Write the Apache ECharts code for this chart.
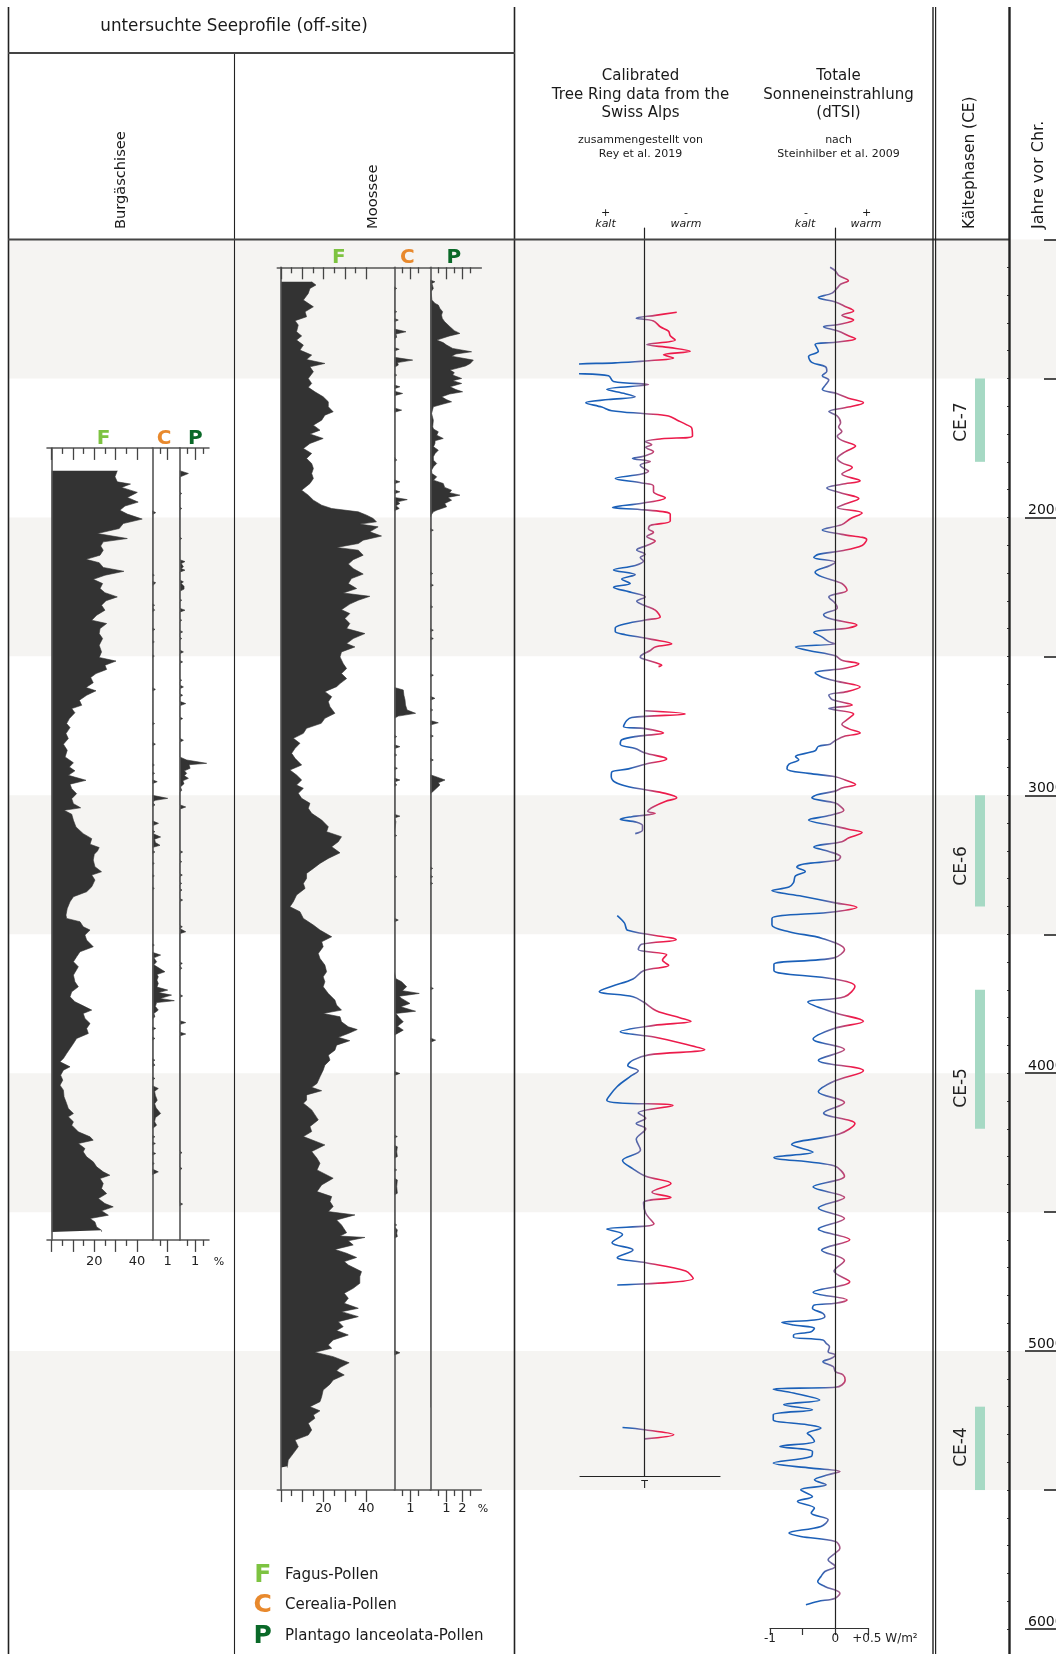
<!DOCTYPE html>
<html>
<head>
<meta charset="utf-8">
<script src="https://cdn.jsdelivr.net/npm/echarts@6/dist/echarts.min.js"></script>
<style>
  html, body { margin: 0; padding: 0; background: #fff; }
  #chart { width: 1056px; height: 1654px; }
</style>
</head>
<body>
<div id="chart"></div>
<script>
// ---------------- data (years BC) ----------------
// pollen percentages: [year, %]
const burgFagus = [[1832,30.8],[1854,29.7],[1872,30.8],[1880,37.0],[1892,32.8],[1910,40.2],[1928,35.5],[1945,40.6],[1959,34.4],[1974,32.0],[1988,35.5],[2006,42.5],[2022,33.6],[2040,31.7],[2058,21.4],[2076,35.5],[2088,24.2],[2103,23.0],[2118,24.2],[2136,22.7],[2151,16.1],[2163,22.3],[2180,24.2],[2194,33.9],[2208,25.0],[2223,19.5],[2238,23.9],[2256,22.7],[2271,25.0],[2286,30.8],[2300,25.5],[2316,23.4],[2334,25.0],[2352,21.1],[2370,18.8],[2382,25.8],[2400,22.7],[2418,22.3],[2436,23.9],[2460,22.3],[2484,23.4],[2504,22.3],[2517,30.2],[2532,25.0],[2547,25.8],[2562,20.8],[2576,18.3],[2595,19.5],[2612,16.1],[2624,20.8],[2640,16.4],[2658,13.0],[2676,14.1],[2688,9.4],[2703,10.9],[2724,8.3],[2742,7.0],[2756,8.6],[2778,6.7],[2796,7.8],[2816,5.5],[2838,7.3],[2862,6.3],[2883,10.2],[2898,8.3],[2912,10.9],[2928,7.8],[2946,16.1],[2960,8.6],[2976,9.4],[2994,11.7],[3012,9.4],[3030,10.2],[3045,13.6],[3054,5.8],[3068,9.4],[3090,10.2],[3114,11.4],[3138,14.8],[3156,18.8],[3176,18.0],[3188,22.3],[3200,21.5],[3212,20.0],[3233,19.5],[3257,20.3],[3275,23.4],[3287,18.8],[3305,20.3],[3329,18.8],[3347,16.4],[3365,10.2],[3383,8.6],[3407,7.3],[3431,6.7],[3443,7.0],[3455,13.3],[3473,14.8],[3485,18.0],[3503,15.6],[3521,16.4],[3545,19.5],[3563,13.3],[3581,11.7],[3599,10.2],[3617,12.5],[3647,10.2],[3671,10.9],[3689,12.5],[3707,9.4],[3725,8.6],[3743,10.9],[3755,14.1],[3773,18.8],[3785,14.8],[3803,15.6],[3821,18.0],[3839,16.4],[3857,17.2],[3875,11.7],[3893,10.2],[3911,8.6],[3929,7.0],[3947,5.5],[3959,3.9],[3977,8.6],[3989,5.5],[4007,4.2],[4025,5.2],[4043,3.9],[4061,5.5],[4085,5.8],[4109,7.0],[4127,7.8],[4145,10.2],[4157,7.8],[4175,10.2],[4187,9.4],[4211,12.5],[4229,18.0],[4241,19.5],[4253,12.5],[4271,15.6],[4283,14.8],[4301,16.4],[4319,19.5],[4337,21.1],[4355,24.2],[4367,27.3],[4379,22.7],[4397,24.2],[4415,23.4],[4433,25.8],[4451,21.9],[4469,25.0],[4481,28.9],[4495,23.4],[4511,26.6],[4523,18.0],[4535,20.3],[4553,21.1],[4565,23.4],[4571,23.4]];

const burgCerealia = [[1976,0],[1983,0.22],[1990,0],[2202,0],[2208,0.13],[2214,0],[2230,0],[2235,0.22],[2241,0.22],[2247,0],[2310,0],[2316,0.15],[2322,0],[2328,0],[2334,0.15],[2340,0],[2397,0],[2403,0.17],[2409,0],[2442,0],[2448,0.13],[2454,0],[2493,0],[2499,0.13],[2505,0],[2544,0],[2550,0.11],[2556,0],[2612,0],[2619,0.2],[2626,0],[2658,0],[2664,0.11],[2670,0],[2736,0],[2742,0.15],[2748,0],[2809,0],[2816,0.2],[2823,0],[2885,0],[2891,0.13],[2897,0],[2915,0],[2921,0.15],[2927,0],[2944,0],[2951,0.32],[2958,0],[3000,0],[3011,1.0],[3018,0.2],[3024,0],[3029,0],[3035,0.17],[3041,0],[3092,0],[3101,0.4],[3110,0],[3125,0],[3131,0.17],[3137,0],[3142,0],[3150,0.54],[3158,0.15],[3170,0.2],[3180,0.5],[3188,0],[3198,0],[3204,0.17],[3210,0],[3239,0],[3245,0.13],[3251,0],[3284,0],[3290,0.13],[3296,0],[3329,0],[3335,0.13],[3341,0],[3443,0],[3449,0.11],[3455,0],[3467,0],[3473,0.11],[3479,0],[3533,0],[3539,0.13],[3545,0],[3565,0],[3575,0.54],[3585,0.1],[3599,0.28],[3610,0.1],[3635,0.82],[3645,0.3],[3653,0.39],[3665,0.3],[3677,0.39],[3690,0.3],[3701,1.0],[3710,0.4],[3719,1.25],[3731,0.5],[3739,1.43],[3746,0.28],[3760,0.2],[3773,0.39],[3785,0.1],[3797,0.17],[3805,0],[3833,0],[3839,0.22],[3845,0],[3869,0],[3875,0.17],[3881,0],[3947,0],[3953,0.17],[3959,0],[3965,0],[3971,0.17],[3977,0],[4013,0],[4019,0.17],[4025,0],[4045,0],[4055,0.39],[4065,0.15],[4080,0.2],[4097,0.32],[4110,0.15],[4125,0.25],[4145,0.54],[4160,0.2],[4175,0.15],[4187,0.28],[4200,0],[4223,0],[4229,0.17],[4235,0],[4247,0],[4253,0.2],[4259,0],[4283,0],[4289,0.22],[4295,0],[4319,0],[4325,0.13],[4331,0],[4345,0],[4355,0.39],[4365,0]];

const burgPlantago = [[1832,0],[1842,0.56],[1855,0],[1908,0],[1914,0.13],[1920,0],[1962,0],[1968,0.13],[1974,0],[1998,0],[2004,0.11],[2010,0],[2070,0],[2076,0.13],[2082,0],[2152,0],[2159,0.34],[2166,0.1],[2178,0.24],[2184,0.1],[2190,0.34],[2197,0],[2225,0],[2232,0.24],[2238,0.1],[2248,0.28],[2258,0.28],[2266,0],[2292,0],[2298,0.13],[2304,0],[2327,0],[2334,0.34],[2341,0],[2364,0],[2370,0.13],[2376,0],[2406,0],[2412,0.19],[2418,0],[2430,0],[2436,0.13],[2442,0],[2477,0],[2484,0.24],[2491,0],[2514,0],[2520,0.19],[2526,0],[2580,0],[2586,0.13],[2592,0],[2603,0],[2610,0.24],[2617,0],[2634,0],[2640,0.19],[2646,0],[2662,0],[2670,0.39],[2678,0],[2718,0],[2724,0.19],[2730,0],[2795,0],[2802,0.24],[2809,0],[2862,0],[2873,0.45],[2885,1.74],[2890,0.6],[2903,0.67],[2912,0.3],[2921,0.45],[2930,0.3],[2939,0.56],[2948,0.2],[2958,0.28],[2970,0.05],[2982,0.13],[2990,0],[3034,0],[3042,0.39],[3050,0],[3198,0],[3204,0.19],[3210,0],[3233,0],[3239,0.13],[3245,0],[3281,0],[3287,0.17],[3293,0],[3311,0],[3317,0.13],[3323,0],[3335,0],[3341,0.15],[3347,0],[3371,0],[3377,0.19],[3383,0],[3467,0],[3473,0.17],[3479,0],[3484,0],[3491,0.39],[3498,0],[3599,0],[3605,0.17],[3611,0],[3617,0],[3623,0.13],[3629,0],[3716,0],[3722,0.19],[3728,0],[3811,0],[3818,0.39],[3825,0],[3852,0],[3859,0.39],[3866,0],[4280,0],[4286,0.15],[4292,0],[4337,0],[4343,0.15],[4349,0],[4465,0],[4471,0.19],[4477,0]];

const mooFagus = [[1152,14.4],[1164,16.4],[1176,13.6],[1194,12.8],[1218,10.5],[1242,15.2],[1260,11.3],[1278,12.0],[1292,6.6],[1308,8.1],[1332,7.3],[1347,9.7],[1362,7.3],[1380,10.5],[1398,8.9],[1416,14.4],[1432,12.0],[1446,20.6],[1458,13.6],[1476,15.2],[1500,12.8],[1518,14.4],[1532,12.8],[1548,15.9],[1566,19.8],[1584,22.2],[1602,22.2],[1620,24.5],[1632,20.6],[1650,19.1],[1668,15.2],[1686,18.3],[1700,13.6],[1716,19.8],[1734,13.6],[1752,10.5],[1770,14.4],[1788,12.0],[1806,14.4],[1824,15.2],[1842,14.4],[1860,15.2],[1878,13.6],[1902,9.7],[1920,12.8],[1938,15.2],[1956,19.1],[1968,23.8],[1980,36.3],[1992,40.2],[2004,43.3],[2016,44.8],[2024,37.0],[2034,45.6],[2052,41.7],[2067,47.2],[2082,38.6],[2094,36.3],[2108,26.1],[2118,36.3],[2136,38.6],[2152,33.9],[2168,31.6],[2184,33.9],[2204,38.6],[2220,33.1],[2238,31.6],[2256,35.5],[2272,29.2],[2284,41.7],[2298,36.3],[2312,32.3],[2332,28.4],[2346,32.3],[2364,30.0],[2382,32.3],[2400,30.8],[2418,39.4],[2436,33.9],[2454,30.8],[2466,34.7],[2484,28.4],[2502,27.7],[2526,29.2],[2544,30.8],[2562,28.4],[2580,30.8],[2598,27.7],[2609,26.1],[2627,20.6],[2645,23.8],[2663,22.2],[2681,23.0],[2705,25.3],[2723,20.6],[2741,18.9],[2759,12.0],[2777,10.5],[2795,5.8],[2813,8.9],[2831,6.6],[2849,5.0],[2867,6.6],[2891,9.7],[2909,4.2],[2927,7.3],[2945,9.7],[2963,7.3],[2975,10.5],[2993,8.1],[3011,9.7],[3029,13.6],[3047,12.8],[3065,14.4],[3089,19.1],[3113,22.2],[3131,21.4],[3149,28.4],[3167,26.9],[3185,23.8],[3207,27.7],[3227,22.2],[3245,18.3],[3263,15.2],[3281,12.0],[3299,12.0],[3317,10.5],[3335,11.3],[3359,7.3],[3383,5.8],[3401,4.2],[3419,8.9],[3443,10.5],[3467,15.2],[3485,18.3],[3509,23.8],[3527,19.1],[3545,19.8],[3569,17.5],[3587,18.3],[3611,20.6],[3635,21.4],[3653,19.8],[3671,20.6],[3689,19.8],[3713,22.2],[3737,25.3],[3755,26.1],[3773,28.4],[3785,19.8],[3797,27.7],[3815,28.4],[3833,31.6],[3843,35.8],[3857,31.6],[3871,26.9],[3883,32.3],[3899,26.1],[3917,25.3],[3935,22.2],[3953,23.0],[3971,20.6],[3989,19.8],[4013,18.3],[4037,16.9],[4051,14.4],[4063,19.1],[4078,12.0],[4097,12.0],[4108,10.5],[4132,14.4],[4168,17.5],[4192,13.6],[4210,14.4],[4228,10.5],[4258,20.6],[4282,14.4],[4306,16.9],[4324,18.3],[4348,16.9],[4378,24.5],[4402,19.1],[4426,16.9],[4444,23.8],[4462,23.0],[4480,24.5],[4498,22.2],[4510,34.7],[4528,26.1],[4546,28.4],[4574,30.8],[4586,27.7],[4591,39.4],[4603,31.6],[4618,33.9],[4634,25.3],[4648,30.8],[4663,35.5],[4678,29.7],[4690,31.6],[4714,37.8],[4732,37.0],[4756,37.0],[4774,33.9],[4792,29.7],[4810,31.6],[4828,29.7],[4846,36.3],[4858,28.4],[4876,36.3],[4894,26.9],[4912,29.2],[4926,26.1],[4942,31.6],[4960,24.5],[4978,22.2],[4990,23.8],[5004,15.9],[5020,24.5],[5042,32.0],[5059,27.7],[5071,26.1],[5086,29.7],[5104,24.5],[5119,23.0],[5140,19.8],[5164,19.1],[5182,18.3],[5200,13.6],[5215,18.3],[5230,15.2],[5242,15.9],[5260,12.8],[5284,14.4],[5302,12.8],[5320,6.6],[5344,8.1],[5368,5.8],[5392,3.4],[5414,3.0],[5419,3.0]];

const mooCerealia = [[1170,0],[1176,0.15],[1182,0],[1254,0],[1260,0.15],[1266,0],[1284,0],[1290,0.25],[1296,0],[1310,0],[1316,0.1],[1322,0],[1324,0],[1332,0.73],[1340,0.1],[1346,0],[1352,0.15],[1358,0],[1389,0],[1395,0.31],[1401,0],[1424,0],[1434,1.15],[1443,0.2],[1452,0.25],[1460,0],[1482,0],[1488,0.15],[1494,0],[1524,0],[1530,0.35],[1537,0],[1546,0],[1554,0.52],[1562,0],[1606,0],[1614,0.46],[1622,0],[1650,0],[1656,0.1],[1662,0],[1692,0],[1698,0.1],[1704,0],[1770,0],[1776,0.1],[1782,0],[1788,0],[1794,0.15],[1800,0],[1865,0],[1872,0.35],[1879,0],[1901,0],[1908,0.35],[1915,0],[1928,0],[1936,0.81],[1944,0.2],[1950,0.35],[1958,0.1],[1968,0.31],[1976,0],[1992,0],[1998,0.1],[2004,0],[2612,0],[2621,0.56],[2640,0.6],[2657,0.67],[2675,0.7],[2693,0.8],[2705,1.33],[2715,0.25],[2723,0],[2759,0],[2765,0.1],[2771,0],[2783,0],[2789,0.15],[2795,0],[2818,0],[2825,0.35],[2832,0],[2849,0],[2855,0.15],[2861,0],[2897,0],[2903,0.19],[2909,0],[2938,0],[2945,0.35],[2952,0],[2957,0],[2963,0.15],[2969,0],[3068,0],[3075,0.35],[3082,0],[3089,0],[3095,0.1],[3101,0],[3139,0],[3145,0.15],[3151,0],[3287,0],[3293,0.15],[3299,0],[3442,0],[3449,0.25],[3456,0],[3491,0],[3497,0.1],[3503,0],[3527,0],[3533,0.1],[3539,0],[3575,0],[3581,0.1],[3587,0],[3636,0],[3641,0.05],[3660,0.1],[3671,0.46],[3689,0.77],[3703,0.5],[3713,1.56],[3723,0.3],[3731,0.46],[3749,0.98],[3761,0.4],[3777,1.33],[3785,0.1],[3800,0.3],[3815,0.56],[3831,0.2],[3845,0.56],[3863,0],[3994,0],[4001,0.35],[4008,0],[4222,0],[4228,0.19],[4234,0],[4259,0],[4265,0.19],[4283,0.15],[4300,0.19],[4306,0],[4342,0],[4348,0.15],[4354,0],[4378,0],[4384,0.19],[4408,0.15],[4432,0.19],[4438,0],[4474,0],[4480,0.1],[4486,0],[4504,0],[4510,0.1],[4516,0],[4540,0],[4546,0.15],[4552,0],[4558,0],[4564,0.19],[4576,0.15],[4588,0.19],[4594,0],[4618,0],[4624,0.1],[4630,0],[4712,0],[4718,0.1],[4724,0],[4808,0],[4814,0.1],[4820,0],[4998,0],[5006,0.35],[5014,0]];

const mooPlantago = [[1146,0],[1152,0.29],[1158,0.1],[1176,0.19],[1188,0.05],[1218,0.1],[1230,0.3],[1236,0.5],[1248,0.6],[1260,0.77],[1272,0.7],[1284,0.75],[1296,0.9],[1314,1.23],[1328,1.5],[1338,1.85],[1347,1.2],[1362,0.4],[1371,0.8],[1380,1.02],[1392,1.4],[1404,2.58],[1412,1.6],[1420,1.33],[1434,2.69],[1446,2.5],[1455,2.2],[1470,1.23],[1479,1.5],[1488,1.4],[1500,1.96],[1508,1.4],[1518,1.96],[1530,1.23],[1540,1.6],[1548,2.02],[1556,1.2],[1566,0.71],[1576,1.0],[1584,1.33],[1592,0.8],[1602,0.19],[1626,0.08],[1650,0.19],[1674,0.15],[1682,0.2],[1692,0.5],[1704,0.4],[1716,0.81],[1724,0.3],[1734,0.29],[1746,0.2],[1758,0.5],[1770,0.3],[1782,0.19],[1794,0.2],[1806,0.4],[1818,0.2],[1830,0.08],[1842,0.1],[1854,0.4],[1866,0.2],[1878,0.81],[1892,0.9],[1902,1.33],[1911,1.2],[1920,1.85],[1928,1.1],[1938,1.33],[1950,0.9],[1962,1.02],[1974,0.4],[1980,0.19],[1992,0.05],[2000,0],[2040,0],[2046,0.19],[2052,0],[2089,0],[2094,0.08],[2099,0],[2155,0],[2160,0.08],[2165,0],[2196,0],[2202,0.15],[2208,0],[2238,0],[2244,0.19],[2250,0],[2275,0],[2280,0.08],[2285,0],[2316,0],[2322,0.15],[2328,0],[2400,0],[2406,0.19],[2412,0],[2430,0],[2436,0.19],[2442,0],[2461,0],[2466,0.08],[2471,0],[2562,0],[2568,0.19],[2574,0],[2644,0],[2651,0.29],[2658,0],[2687,0],[2693,0.15],[2699,0],[2731,0],[2739,0.5],[2747,0],[2781,0],[2787,0.19],[2793,0],[2832,0],[2837,0.08],[2842,0],[2867,0],[2873,0.19],[2879,0],[2926,0],[2933,0.35],[2945,0.92],[2955,0.5],[2963,0.6],[2969,0.6],[2979,0.3],[2987,0.15],[2994,0],[3066,0],[3071,0.08],[3076,0],[3186,0],[3191,0.08],[3196,0],[3257,0],[3263,0.15],[3269,0],[3287,0],[3293,0.15],[3299,0],[3311,0],[3317,0.15],[3323,0],[3420,0],[3425,0.08],[3430,0],[3444,0],[3449,0.08],[3454,0],[3492,0],[3497,0.08],[3502,0],[3648,0],[3653,0.08],[3658,0],[3689,0],[3695,0.19],[3701,0],[3774,0],[3779,0.08],[3784,0],[3798,0],[3803,0.08],[3808,0],[3873,0],[3881,0.33],[3889,0],[3995,0],[4001,0.12],[4007,0],[4168,0],[4174,0.12],[4180,0],[4457,0],[4462,0.08],[4467,0],[4793,0],[4798,0.08],[4803,0],[4875,0],[4880,0.08],[4885,0],[5193,0],[5198,0.1],[5203,0]];

// calibrated tree-ring record (relative units, + = warm side), one array per stretch
const treeRing1 = [[1262,1.29],[1273,0.43],[1283,-0.33],[1293,0.36],[1314,0.63],[1330,0.96],[1346,1.03],[1362,1.23],[1378,0.09],[1389,1.03],[1402,1.83],[1415,0.76],[1426,1.16],[1437,0.03],[1444,-1.17],[1453,-3.04],[1476,-3.07],[1490,-1.44],[1511,-1.24],[1522,0.16],[1539,-1.51],[1555,-0.77],[1566,-0.37],[1576,-1.44],[1587,-2.35],[1603,-1.71],[1616,-1.31],[1627,0.03],[1635,0.96],[1651,1.33],[1667,1.69],[1678,1.89],[1707,1.92],[1717,0.69],[1727,0.03],[1739,0.29],[1748,0.05],[1764,0.36],[1780,-0.04],[1788,-0.48],[1799,0.23],[1812,-0.17],[1823,-0.04],[1833,0.16],[1844,-0.11],[1860,-1.17],[1876,-0.11],[1887,0.36],[1908,0.36],[1929,0.83],[1948,-0.04],[1964,-1.28],[1973,0],[1989,1.03],[2013,1.03],[2029,0.23],[2042,0.16],[2053,0.36],[2069,0.09],[2085,0.43],[2101,0.09],[2117,-0.31],[2133,0.03],[2144,-0.17],[2157,-0.04],[2173,-0.37],[2189,-1.24],[2206,-0.37],[2222,-0.91],[2238,-0.57],[2251,-1.24],[2270,-0.51],[2286,0.03],[2302,-0.31],[2318,0.03],[2334,0.43],[2358,0.63],[2369,0.03],[2386,-0.91],[2398,-1.17],[2411,-1.17],[2422,-0.77],[2431,-0.17],[2439,0.29],[2455,1.09],[2466,0.43],[2479,0.23],[2495,-0.11],[2503,-0.17],[2511,0.03],[2524,0.49],[2532,0.69],[2537,0.56]];
const treeRing2 = [[2696,0.03],[2707,1.63],[2720,-0.51],[2731,-0.71],[2752,-0.84],[2760,0.03],[2776,0.76],[2787,-0.24],[2800,-0.91],[2816,-0.97],[2832,-0.37],[2848,0.03],[2869,0.89],[2888,0.03],[2905,-0.64],[2916,-1.31],[2932,-1.33],[2953,-1.17],[2969,-0.64],[2980,0.03],[2993,0.83],[3009,1.29],[3022,0.83],[3041,0.36],[3057,0.13],[3065,0.43],[3077,-0.51],[3086,-0.97],[3097,-0.31],[3109,-0.08],[3125,-0.08],[3138,-0.37]];
const treeRing3 = [[3433,-1.09],[3460,-0.80],[3486,-0.67],[3520,1.27],[3536,-0.12],[3555,-0.25],[3574,0.89],[3593,0.72],[3612,0.97],[3631,-0.04],[3661,-0.46],[3687,-1.30],[3706,-1.81],[3725,-0.46],[3744,-0.04],[3775,0.47],[3801,1.44],[3813,1.86],[3828,0.38],[3851,-0.97],[3870,0.38],[3896,1.65],[3915,2.41],[3934,0.17],[3953,-0.46],[3972,-0.67],[3991,-0.25],[4010,-0.54],[4048,-1.09],[4097,-1.51],[4116,1.14],[4143,-0.25],[4162,0.05],[4181,-0.33],[4200,0.05],[4238,-0.33],[4276,-0.16],[4314,-0.88],[4344,-0.46],[4371,0.05],[4397,1.06],[4428,0.30],[4447,1.06],[4466,-0.04],[4504,0.05],[4542,0.38],[4561,-1.51],[4580,-0.88],[4610,-1.30],[4636,-0.46],[4663,-1.09],[4682,0.05],[4712,1.65],[4739,1.95],[4762,-1.09]];
const treeRing4 = [[5275,-0.88],[5283,0.01],[5301,1.17],[5316,0.01]];

// total solar irradiance anomaly dTSI, W/m²
const dTSI = [[1100,-0.08],[1113,0],[1129,0.05],[1148,0.20],[1161,0.08],[1174,0.03],[1193,-0.05],[1209,-0.26],[1225,0],[1241,0.15],[1257,0.28],[1273,0.10],[1290,0.28],[1306,0.05],[1314,-0.18],[1330,0.05],[1346,0.20],[1357,0.31],[1370,0],[1378,-0.31],[1402,-0.26],[1421,-0.41],[1442,-0.36],[1458,-0.15],[1474,-0.13],[1490,-0.20],[1506,-0.10],[1523,-0.15],[1539,-0.20],[1555,0.03],[1571,0.20],[1587,0.43],[1603,0.20],[1619,-0.10],[1635,0.03],[1659,0.08],[1675,0.05],[1691,0.10],[1707,0.03],[1723,0.10],[1743,0.31],[1764,0.15],[1788,0.03],[1804,0.10],[1820,0.26],[1844,0.10],[1868,0.38],[1881,0.10],[1894,-0.13],[1913,0.10],[1932,0.36],[1952,0.15],[1964,0.03],[1984,0.41],[2005,0.23],[2026,0.10],[2045,-0.20],[2061,0.10],[2080,0.48],[2101,0.41],[2120,0.10],[2133,-0.26],[2144,-0.33],[2161,0],[2173,-0.08],[2197,-0.31],[2214,-0.20],[2238,0.10],[2262,0.18],[2286,-0.10],[2310,0],[2326,0.03],[2350,-0.18],[2363,-0.10],[2374,0.10],[2387,0.33],[2398,0.20],[2414,-0.33],[2431,-0.20],[2447,-0.10],[2455,0],[2466,-0.61],[2479,-0.41],[2498,0],[2514,0.10],[2527,0.36],[2543,0.15],[2559,-0.31],[2575,-0.20],[2591,0.05],[2610,0.38],[2627,0.18],[2639,-0.10],[2655,-0.05],[2675,0.26],[2688,-0.10],[2707,0.28],[2728,0.18],[2744,0.10],[2760,0.20],[2776,0.38],[2787,0.15],[2803,0],[2816,-0.08],[2824,-0.26],[2840,-0.31],[2861,-0.61],[2872,-0.56],[2888,-0.71],[2905,-0.74],[2921,-0.41],[2933,0],[2945,0.15],[2961,0.31],[2974,0.10],[2985,0],[2998,-0.28],[3009,-0.36],[3028,0],[3044,0.10],[3054,0.13],[3073,-0.10],[3089,-0.41],[3109,-0.05],[3122,0.20],[3134,0.41],[3154,0.20],[3167,0.10],[3186,-0.33],[3202,-0.10],[3221,0.08],[3234,0.03],[3247,-0.48],[3258,-0.59],[3274,-0.46],[3290,-0.61],[3314,-0.64],[3330,-0.71],[3343,-0.97],[3363,-0.51],[3387,0],[3403,0.33],[3419,0],[3443,-0.97],[3467,-0.97],[3491,-0.71],[3515,-0.20],[3555,0.14],[3585,-0.02],[3608,-0.94],[3630,-0.94],[3661,-0.02],[3687,0.30],[3725,0.14],[3744,-0.42],[3782,-0.02],[3813,0.43],[3839,-0.02],[3877,-0.34],[3915,0.14],[3953,-0.26],[3991,0.43],[4029,-0.02],[4067,-0.26],[4105,0.14],[4143,-0.18],[4181,0.30],[4219,0.06],[4257,-0.67],[4284,-0.34],[4303,-0.94],[4333,-0.02],[4371,0.14],[4409,-0.34],[4447,0.14],[4485,-0.26],[4523,0.14],[4561,-0.26],[4599,0.22],[4637,-0.21],[4674,0.14],[4712,-0.02],[4750,0.22],[4788,-0.34],[4816,0.18],[4828,0],[4834,-0.32],[4846,-0.35],[4864,-0.19],[4876,-0.16],[4888,-0.32],[4897,-0.82],[4906,-0.64],[4918,-0.32],[4930,-0.37],[4942,-0.64],[4950,-0.64],[4960,-0.19],[4972,-0.14],[4984,-0.09],[5002,-0.11],[5014,0],[5026,-0.06],[5038,-0.19],[5056,-0.03],[5074,0],[5086,0.12],[5104,0.15],[5122,0.10],[5130,0],[5137,-0.95],[5151,-0.64],[5176,-0.24],[5193,-0.79],[5211,-0.35],[5229,-0.95],[5247,-0.95],[5265,-0.43],[5277,-0.22],[5296,-0.43],[5307,-0.37],[5325,-0.32],[5343,-0.85],[5361,-0.35],[5379,-0.37],[5403,-0.95],[5421,-0.37],[5433,0.07],[5445,-0.11],[5463,-0.32],[5481,-0.14],[5499,-0.53],[5523,-0.35],[5541,-0.58],[5565,-0.32],[5583,-0.37],[5607,-0.11],[5631,-0.22],[5655,-0.71],[5667,-0.53],[5685,0],[5709,0.07],[5727,0],[5751,-0.11],[5775,0],[5793,-0.16],[5811,-0.22],[5829,-0.27],[5847,-0.16],[5871,0.07],[5889,0],[5901,-0.27],[5913,-0.45]];

// cold phases (Kältephasen)
const coldPhases = ['CE-7', 'CE-6', 'CE-5', 'CE-4'];
const coldStart = [1500, 3000, 3700, 5200];
const coldEnd = [1800, 3400, 4200, 5500];

// shaded 500-year bands, year-axis ticks and labels
const grayBands = [[1000, 1500], [2000, 2500], [3000, 3500], [4000, 4500], [5000, 5500]];
const yearLabels = [2000, 3000, 4000, 5000, 6000];
const yearHalfTicks = [1000, 1500, 2500, 3500, 4500, 5500];
const yearMinorTicks = [];
for (let y = 1100; y <= 6000; y += 100) yearMinorTicks.push(y);

// pollen axis ticks and labels
const fagusTicksLong = [0, 10, 20, 30, 40], fagusTicksShort = [5, 15, 25, 35], fagusLabels = [20, 40];

// ---------------- layout ----------------
const FONT = 'DejaVu Sans';
const YEAR_MIN = 1000, YEAR_MAX = 6090, Y0 = 239.5, PX_PER_YEAR = 0.2779;
const pxAt = yr => Y0 + (yr - YEAR_MIN) * PX_PER_YEAR;
const yearAt = px => YEAR_MIN + (px - Y0) / PX_PER_YEAR;

const grids = [], xAxes = [], yAxes = [], series = [];
const addGrid = g => (grids.push(Object.assign({ outerBoundsMode: 'none', containLabel: false }, g)), grids.length - 1);
const addX = a => (xAxes.push(a), xAxes.length - 1);
const addY = a => (yAxes.push(a), yAxes.length - 1);
const off = { show: false };

// background bands
const gBg = addGrid({ left: 9, right: 0, top: pxAt(YEAR_MIN), height: pxAt(YEAR_MAX) - pxAt(YEAR_MIN) });
const xBg = addX({ gridIndex: gBg, type: 'value', min: 0, max: 1, show: false });
const yBg = addY({ gridIndex: gBg, type: 'value', inverse: true, min: YEAR_MIN, max: YEAR_MAX, show: false });
series.push({
  type: 'line', xAxisIndex: xBg, yAxisIndex: yBg, data: [[0, YEAR_MIN]], symbol: 'none',
  lineStyle: { opacity: 0 }, silent: true, z: 0,
  markArea: { silent: true, z: 0, itemStyle: { color: '#f5f4f2' }, data: grayBands.map(b => [{ yAxis: b[0] }, { yAxis: b[1] }]) }
});

// pollen panels
function pollenPanel(p) {
  const top = pxAt(p.yearTop), height = pxAt(p.yearBottom) - top;
  const g = addGrid({ left: p.zeroX + p.min * p.pxPerPct, top, width: (p.max - p.min) * p.pxPerPct, height });
  const base = { gridIndex: g, type: 'value', min: p.min, max: p.max, splitLine: off, z: 5 };
  const line = { show: true, onZero: false, lineStyle: { color: '#555', width: 1.6 } };
  const tickStyle = { color: '#444', width: 1.3 };
  const shift = p.nameShift || 0;
  const xi = addX(Object.assign({}, base, {
    position: 'top', axisLine: line,
    axisTick: { show: true, inside: true, length: 12, customValues: p.long, lineStyle: tickStyle },
    axisLabel: off,
    name: p.letter, nameLocation: 'middle', nameGap: -1,
    nameTextStyle: { color: p.color, fontSize: 20, fontWeight: 'bold', fontFamily: FONT,
      padding: shift >= 0 ? [0, 0, 0, 2 * shift] : [0, -2 * shift, 0, 0] }
  }));
  if (p.short.length) addX(Object.assign({}, base, {
    position: 'top', axisLine: off, axisLabel: off,
    axisTick: { show: true, inside: true, length: 6, customValues: p.short, lineStyle: tickStyle }
  }));
  addX(Object.assign({}, base, {
    position: 'bottom', axisLine: line,
    axisTick: { show: true, length: 12, customValues: p.long, lineStyle: tickStyle },
    axisLabel: { show: true, customValues: p.labels, margin: p.labelMargin, fontSize: 13, color: '#222', fontFamily: FONT }
  }));
  if (p.short.length) addX(Object.assign({}, base, {
    position: 'bottom', axisLine: off, axisLabel: off,
    axisTick: { show: true, length: 6, customValues: p.short, lineStyle: tickStyle }
  }));
  const yi = addY({
    gridIndex: g, type: 'time', inverse: true, min: p.yearTop, max: p.yearBottom, z: 5,
    axisLine: { show: true, onZero: true, lineStyle: { color: '#555', width: 1.6 } },
    axisTick: off, axisLabel: off, splitLine: off
  });
  series.push({
    type: 'line', xAxisIndex: xi, yAxisIndex: yi, data: p.data.map(d => [d[1], d[0]]),
    symbol: 'none', silent: true, z: 3,
    lineStyle: { color: '#333', width: 0.6 }, areaStyle: { color: '#333', opacity: 1 }
  });
}

const FAGUS_PX = 2.13;
// Burgäschisee
pollenPanel({ zeroX: 51.7, pxPerPct: FAGUS_PX, min: -2.2, max: 47.2, yearTop: 1750, yearBottom: 4600, nameShift: 4,
  long: fagusTicksLong, short: fagusTicksShort, labels: fagusLabels, letter: 'F', color: '#7dc341', data: burgFagus, labelMargin: 15 });
pollenPanel({ zeroX: 152.3, pxPerPct: 15.4, min: 0, max: 1.78, yearTop: 1750, yearBottom: 4600, nameShift: -2,
  long: [1], short: [0.5], labels: [1], letter: 'C', color: '#e8892d', data: burgCerealia, labelMargin: 15 });
pollenPanel({ zeroX: 179.7, pxPerPct: 15.5, min: 0, max: 1.89, yearTop: 1750, yearBottom: 4600, nameShift: 1,
  long: [1], short: [0.5, 1.5], labels: [1], letter: 'P', color: '#0a6928', data: burgPlantago, labelMargin: 15 });
// Moossee
pollenPanel({ zeroX: 281, pxPerPct: FAGUS_PX, min: -1.74, max: 53.2, yearTop: 1100, yearBottom: 5500, nameShift: 3,
  long: fagusTicksLong, short: fagusTicksShort, labels: fagusLabels, letter: 'F', color: '#7dc341', data: mooFagus, labelMargin: 12 });
pollenPanel({ zeroX: 394.3, pxPerPct: 16, min: 0, max: 2.25, yearTop: 1100, yearBottom: 5500, nameShift: -5,
  long: [1], short: [0.5, 1.5], labels: [1], letter: 'C', color: '#e8892d', data: mooCerealia, labelMargin: 12 });
pollenPanel({ zeroX: 430.3, pxPerPct: 16, min: 0, max: 3.19, yearTop: 1100, yearBottom: 5500, nameShift: -2,
  long: [1, 2], short: [0.5, 1.5, 2.5], labels: [1, 2], letter: 'P', color: '#0a6928', data: mooPlantago, labelMargin: 12 });

// tree ring panel (1 unit = 25 px)
const gTree = addGrid({ left: 580, top: 228, width: 140, height: 1248 });
const xTree = addX({ gridIndex: gTree, type: 'value', position: 'bottom', min: -2.58, max: 3.02, z: 5, splitLine: off,
  axisLine: { show: true, onZero: false, lineStyle: { color: '#222', width: 1.2 } }, axisTick: off,
  axisLabel: { show: true, customValues: [0], formatter: () => 'T', margin: 4, fontSize: 11, color: '#222', fontFamily: FONT } });
const yTree = addY({ gridIndex: gTree, type: 'value', inverse: true, min: yearAt(228), max: yearAt(1476), z: 5,
  axisLine: { show: true, onZero: true, lineStyle: { color: '#222', width: 1.2 } }, axisTick: off, axisLabel: off, splitLine: off });
const treeIdx = [];
[treeRing1, treeRing2, treeRing3, treeRing4].forEach(seg => {
  treeIdx.push(series.length);
  series.push({ type: 'line', xAxisIndex: xTree, yAxisIndex: yTree, data: seg.map(d => [d[1], d[0]]),
    symbol: 'none', smooth: 0.35, clip: false, silent: true, z: 4, lineStyle: { width: 1.6 } });
});

// dTSI panel
const gTsi = addGrid({ left: 770, top: 228, width: 98, height: 1400 });
const xTsi = addX({ gridIndex: gTsi, type: 'value', position: 'bottom', min: -1, max: 0.5, z: 5, splitLine: off,
  axisLine: { show: true, onZero: false, lineStyle: { color: '#333', width: 1.2 } },
  axisTick: { show: true, length: 7, customValues: [-1, -0.5, 0, 0.5], lineStyle: { color: '#333', width: 1.2 } },
  axisLabel: { show: true, customValues: [-1, 0, 0.5], margin: 5, fontSize: 12, color: '#222', fontFamily: FONT,
    formatter: v => v === 0.5 ? '{u|+0.5 W/m²}' : (v === -1 ? '-1' : '0'),
    rich: { u: { padding: [0, 0, 0, 34], fontSize: 12, color: '#222', fontFamily: FONT } } } });
const yTsi = addY({ gridIndex: gTsi, type: 'value', inverse: true, min: yearAt(228), max: yearAt(1628), z: 5,
  axisLine: { show: true, onZero: true, lineStyle: { color: '#222', width: 1.2 } }, axisTick: off, axisLabel: off, splitLine: off });
const tsiIdx = series.length;
series.push({ type: 'line', xAxisIndex: xTsi, yAxisIndex: yTsi, data: dTSI.map(d => [d[1], d[0]]),
  symbol: 'none', smooth: 0.35, clip: false, silent: true, z: 4, lineStyle: { width: 1.6 } });

// cold phases column
const gCold = addGrid({ left: 937, width: 72, top: pxAt(YEAR_MIN), height: pxAt(YEAR_MAX) - pxAt(YEAR_MIN) });
const xCold = addX({ gridIndex: gCold, type: 'value', min: 0, max: 1, show: false });
const yCold = addY({ gridIndex: gCold, type: 'value', inverse: true, min: YEAR_MIN, max: YEAR_MAX, show: false });
const coldLabelYear = [1657, 3254, 4053, 5345];
series.push({
  type: 'custom', xAxisIndex: xCold, yAxisIndex: yCold, silent: true, z: 6,
  data: coldPhases.map((n, i) => [i]),
  renderItem: (params, api) => {
    const i = params.dataIndex;
    const y0 = api.coord([0, coldStart[i]])[1], y1 = api.coord([0, coldEnd[i]])[1];
    const yl = api.coord([0, coldLabelYear[i]])[1];
    return { type: 'group', children: [
      { type: 'rect', shape: { x: 975, y: y0, width: 10, height: y1 - y0 }, style: { fill: '#a6d9c4' } },
      { type: 'text', x: 962, y: yl, rotation: Math.PI / 2,
        style: { text: coldPhases[i], fontSize: 17, fontFamily: FONT, fill: '#222', align: 'center', verticalAlign: 'middle' } }
    ] };
  }
});

// year axis column
const gYear = addGrid({ left: 1010, right: 0, top: pxAt(YEAR_MIN), height: pxAt(YEAR_MAX) - pxAt(YEAR_MIN) });
addX({ gridIndex: gYear, type: 'value', min: 0, max: 1, show: false });
const yearAxisBase = { gridIndex: gYear, type: 'value', inverse: true, min: YEAR_MIN, max: YEAR_MAX, position: 'right',
  axisLine: off, splitLine: off, z: 5 };
addY(Object.assign({}, yearAxisBase, { axisLabel: off,
  axisTick: { show: true, inside: true, length: 3, customValues: yearMinorTicks, lineStyle: { color: '#333', width: 1 } } }));
addY(Object.assign({}, yearAxisBase, { axisLabel: off,
  axisTick: { show: true, inside: true, length: 12, customValues: yearHalfTicks, lineStyle: { color: '#222', width: 1.6 } } }));
addY(Object.assign({}, yearAxisBase, {
  axisTick: { show: true, inside: true, length: 31, customValues: yearLabels, lineStyle: { color: '#222', width: 1.6 } },
  axisLabel: { show: true, inside: true, customValues: yearLabels, formatter: v => String(v), align: 'left', verticalAlign: 'bottom',
    margin: 28, fontSize: 14, color: '#111', fontFamily: FONT } }));

// ---------------- frame, headings and legend ----------------
const L = (x1, y1, x2, y2, w, c) => ({ type: 'line', silent: true, z: 100, shape: { x1, y1, x2, y2 }, style: { stroke: c || '#222', lineWidth: w } });
const T = (text, x, y, o) => ({ type: 'text', silent: true, z: 100, x, y, rotation: (o && o.rot) || 0,
  style: Object.assign({ text, fontSize: 15, fontFamily: FONT, fill: '#1a1a1a', align: 'center', verticalAlign: 'middle' }, o && o.s) });
const up = Math.PI / 2;
const graphics = [
  L(8.5, 7, 8.5, 1654, 1.6), L(514.5, 7, 514.5, 1654, 1.6), L(234.5, 53, 234.5, 1654, 1.1),
  L(8, 53, 515, 53, 2.2, '#444'), L(8, 239.5, 1010, 239.5, 2, '#444'),
  L(933, 7, 933, 1654, 1.4), L(935.6, 7, 935.6, 1654, 1.2), L(1009.5, 7, 1009.5, 1654, 2.4),
  T('untersuchte Seeprofile (off-site)', 234, 27, { s: { fontSize: 16.8 } }),
  T('Burgäschisee', 121, 229, { rot: up, s: { align: 'left', fontSize: 14.6 } }),
  T('Moossee', 373.5, 229, { rot: up, s: { align: 'left', fontSize: 14.8 } }),
  T('Kältephasen (CE)', 969.5, 229, { rot: up, s: { align: 'left', fontSize: 15.4 } }),
  T('Jahre vor Chr.', 1039, 229, { rot: up, s: { align: 'left', fontSize: 16 } }),
  T('Calibrated\nTree Ring data from the\nSwiss Alps', 640.5, 95, { s: { lineHeight: 18.5 } }),
  T('zusammengestellt von\nRey et al. 2019', 640.5, 147, { s: { fontSize: 11, lineHeight: 14 } }),
  T('Totale\nSonneneinstrahlung\n(dTSI)', 838.5, 95, { s: { lineHeight: 18.5 } }),
  T('nach\nSteinhilber et al. 2009', 838.5, 147, { s: { fontSize: 11, lineHeight: 14 } }),
  T('+', 605.5, 213, { s: { fontSize: 11 } }), T('kalt', 605.5, 224.5, { s: { fontSize: 11, fontStyle: 'italic' } }),
  T('-', 686, 213, { s: { fontSize: 11 } }), T('warm', 686, 224.5, { s: { fontSize: 11, fontStyle: 'italic' } }),
  T('-', 806, 213, { s: { fontSize: 11 } }), T('kalt', 805, 224.5, { s: { fontSize: 11, fontStyle: 'italic' } }),
  T('+', 866.5, 213, { s: { fontSize: 11 } }), T('warm', 866, 224.5, { s: { fontSize: 11, fontStyle: 'italic' } }),
  T('%', 219, 1262, { s: { fontSize: 11 } }), T('%', 483, 1509, { s: { fontSize: 11 } }),
  T('F', 262.7, 1575, { s: { fontSize: 25, fontWeight: 'bold', fill: '#7dc341' } }),
  T('C', 262.7, 1605, { s: { fontSize: 25, fontWeight: 'bold', fill: '#e8892d' } }),
  T('P', 262.7, 1636, { s: { fontSize: 25, fontWeight: 'bold', fill: '#0a6928' } }),
  T('Fagus-Pollen', 285, 1575, { s: { align: 'left' } }),
  T('Cerealia-Pollen', 285, 1605, { s: { align: 'left' } }),
  T('Plantago lanceolata-Pollen', 285, 1636, { s: { align: 'left' } })
];

const lineColors = ['#1b60b8', '#8a6c9c', '#ec1b4b'];
const chart = echarts.init(document.getElementById('chart'), null, { renderer: 'canvas' });
chart.setOption({
  backgroundColor: '#ffffff',
  animation: false,
  textStyle: { fontFamily: FONT },
  grid: grids, xAxis: xAxes, yAxis: yAxes, series,
  visualMap: [
    { type: 'continuous', show: false, seriesIndex: treeIdx, dimension: 0, min: -0.6, max: 0.6, inRange: { color: lineColors } },
    { type: 'continuous', show: false, seriesIndex: tsiIdx, dimension: 0, min: -0.25, max: 0.25, inRange: { color: lineColors } }
  ],
  graphic: { elements: graphics }
});
</script>
</body>
</html>
